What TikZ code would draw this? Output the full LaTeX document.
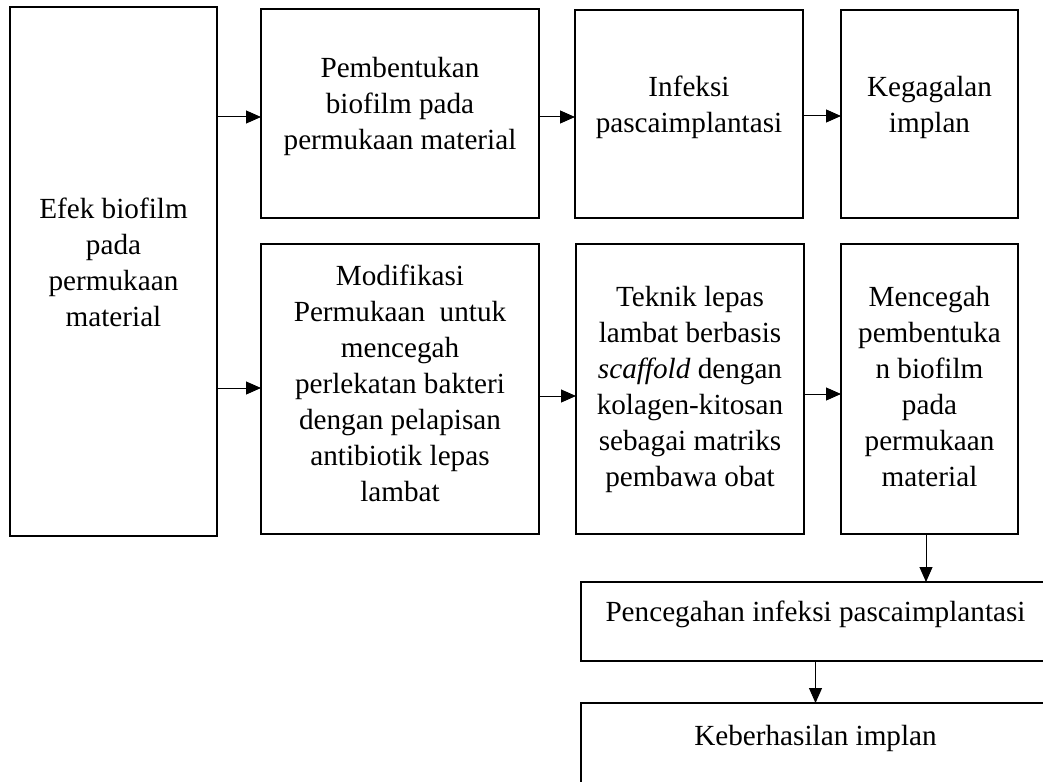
\documentclass[tikz,border=0pt]{standalone}
\usepackage{fontspec}
\setmainfont{Liberation Serif}
\usetikzlibrary{arrows.meta}
\begin{document}
\begin{tikzpicture}[x=1pt,y=-1pt,
  txt/.style={font=\fontsize{29.2}{36}\selectfont},
  box/.style={draw, line width=2pt, anchor=north west, inner sep=0pt, outer sep=0pt},
  lbl/.style={inner sep=0pt, align=center, txt},
  arr/.style={-{Triangle[length=15pt,width=13pt]}, line width=1pt}]
\useasboundingbox (0,0) rectangle (1043,781);
\node[box, minimum width=207pt, minimum height=529pt, label={[lbl,yshift=9pt]center:{Efek biofilm\\pada\\permukaan\\material}}] (A) at (10,7) {};
\node[box, minimum width=278pt, minimum height=209pt, label={[lbl,yshift=7pt]center:{Pembentukan\\biofilm pada\\permukaan material}}] (B) at (261,9) {};
\node[box, minimum width=228pt, minimum height=208pt, label={[lbl,yshift=7pt]center:{Infeksi\\pascaimplantasi}}] (C) at (575,10) {};
\node[box, minimum width=177pt, minimum height=208pt, label={[lbl,yshift=7pt]center:{Kegagalan\\implan}}] (D) at (841,10) {};
\node[box, minimum width=278pt, minimum height=290pt, label={[lbl,yshift=6pt]center:{Modifikasi\\Permukaan\ \ untuk\\mencegah\\perlekatan bakteri\\dengan pelapisan\\antibiotik lepas\\lambat}}] (E) at (261,244) {};
\node[box, minimum width=228pt, minimum height=290pt, label={[lbl]center:{Teknik lepas\\lambat berbasis\\\textit{scaffold} dengan\\kolagen-kitosan\\sebagai matriks\\pembawa obat}}] (F) at (576,244) {};
\node[box, minimum width=177pt, minimum height=290pt, label={[lbl,yshift=2pt]center:{Mencegah\\pembentuka\\n biofilm\\pada\\permukaan\\material}}] (G) at (841,244) {};
\node[box, minimum width=469pt, minimum height=79pt, label={[lbl,yshift=7pt]center:{Pencegahan infeksi pascaimplantasi}}] (H) at (581,582) {};
\node[box, minimum width=469pt, minimum height=100pt, label={[lbl,yshift=15pt]center:{Keberhasilan implan}}] (I) at (581,703) {};
\draw[arr] (A.east |- 0,117) -- (B.west |- 0,117);
\draw[arr] (A.east |- 0,388) -- (E.west |- 0,388);
\draw[arr] (B.east |- 0,117) -- (C.west |- 0,117);
\draw[arr] (C.east |- 0,116) -- (D.west |- 0,116);
\draw[arr] (E.east |- 0,396) -- (F.west |- 0,396);
\draw[arr] (F.east |- 0,394) -- (G.west |- 0,394);
\draw[arr] (926,0 |- G.south) -- (926,0 |- H.north);
\draw[arr] (H.south) -- (I.north);
\end{tikzpicture}
\end{document}
